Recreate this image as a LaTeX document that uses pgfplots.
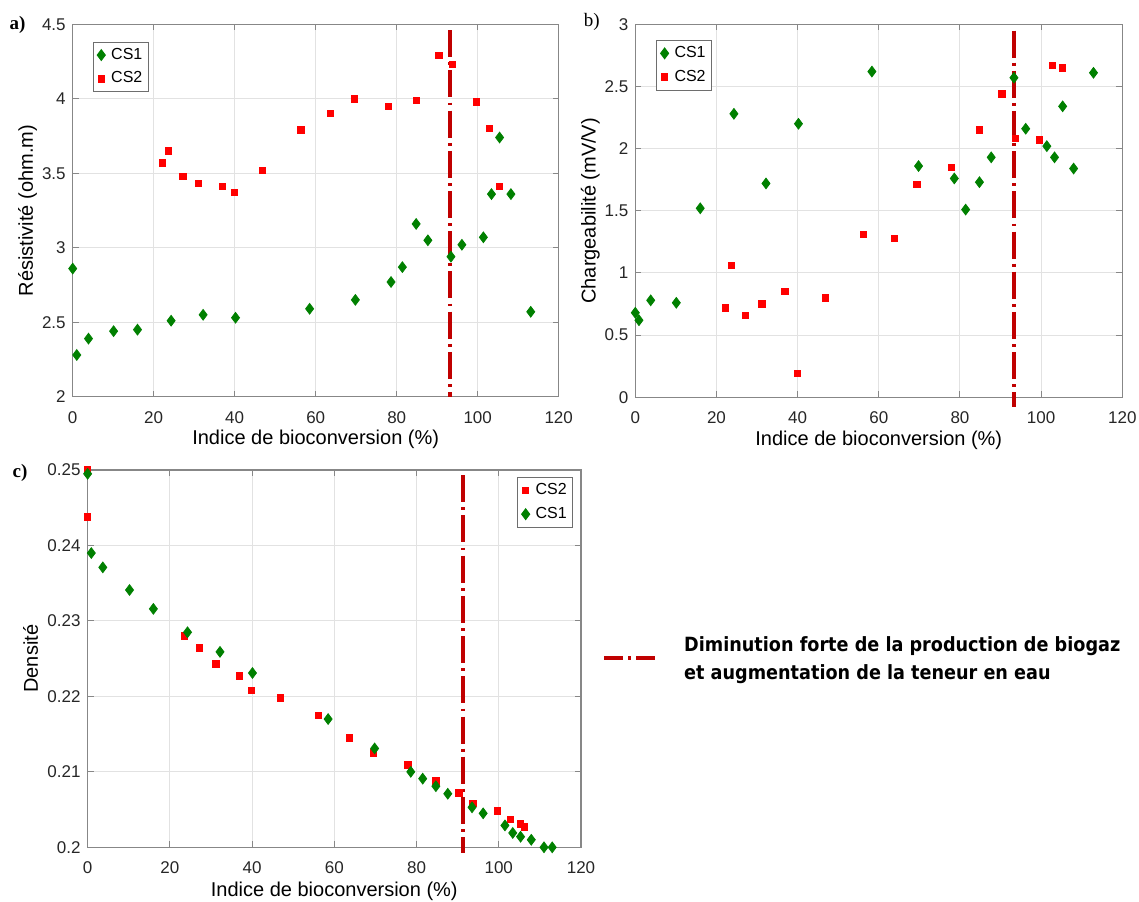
\documentclass[border=0pt]{standalone}
\usepackage{pgfplots}
\usepackage{pgfplotstable}
\pgfplotsset{compat=1.18}
\usepackage{fontspec}
\setmainfont{Liberation Sans}
\newfontfamily\seriffont{Liberation Serif}
\newfontfamily\annfont{DejaVu Sans}
\definecolor{csgreen}{RGB}{0,128,0}
\definecolor{csred}{RGB}{255,0,0}
\definecolor{vline}{RGB}{192,0,0}
\definecolor{axgray}{RGB}{135,135,135}
\definecolor{gridgray}{RGB}{226,226,226}
\definecolor{txtgray}{RGB}{38,38,38}
\definecolor{leggray}{RGB}{110,110,110}

% ---------- panel a ----------
\pgfplotstableread{
x y
0 2.86
1.0 2.28
3.9 2.39
10.1 2.44
16.0 2.45
24.3 2.51
32.2 2.55
40.2 2.53
58.5 2.59
69.8 2.65
78.6 2.77
81.4 2.87
84.8 3.16
87.7 3.05
93.4 2.94
96.1 3.02
101.4 3.07
103.4 3.36
105.4 3.74
108.2 3.36
113.1 2.57
}\aone
\pgfplotstableread{
x y
22.2 3.57
23.6 3.65
27.2 3.48
31.1 3.43
36.9 3.41
39.9 3.37
46.9 3.52
56.3 3.79
63.7 3.90
69.5 4.00
77.9 3.95
84.8 3.99
90.4 4.29
93.7 4.23
99.7 3.98
102.9 3.80
105.4 3.41
}\atwo
% ---------- panel b ----------
\pgfplotstableread{
x y
0 0.68
0.9 0.62
3.8 0.78
10.1 0.76
16.0 1.52
24.3 2.28
32.2 1.72
40.2 2.20
58.3 2.62
69.8 1.86
78.6 1.76
81.4 1.51
84.8 1.73
87.7 1.93
93.3 2.57
96.2 2.16
101.4 2.02
103.3 1.93
105.3 2.34
108.0 1.84
112.9 2.61
}\bone
\pgfplotstableread{
x y
22.2 0.72
23.7 1.06
27.2 0.66
31.2 0.75
36.9 0.85
40.0 0.19
46.9 0.80
56.2 1.31
63.8 1.28
69.4 1.71
77.9 1.85
84.8 2.15
90.3 2.44
93.6 2.08
99.6 2.07
102.8 2.67
105.3 2.65
}\btwo
% ---------- panel c ----------
\pgfplotstableread{
x y
0 0.2495
0.9 0.2390
3.7 0.2371
10.2 0.2341
16.0 0.2316
24.3 0.2285
32.2 0.2259
40.1 0.2231
58.5 0.2170
69.8 0.2131
78.6 0.2100
81.5 0.2091
84.7 0.2081
87.6 0.2071
93.5 0.2053
96.2 0.2045
101.5 0.2029
103.4 0.2019
105.3 0.2014
107.9 0.2010
111.0 0.2000
113.0 0.2000
}\cone
\pgfplotstableread{
x y
0 0.2500
0 0.2438
23.6 0.2280
27.2 0.2264
31.2 0.2243
36.9 0.2227
39.9 0.2208
46.9 0.2198
56.2 0.2175
63.7 0.2145
69.5 0.2125
77.9 0.2109
84.7 0.2088
90.3 0.2072
93.7 0.2058
99.6 0.2048
102.8 0.2037
105.3 0.2031
106.3 0.2027
}\ctwo

\pgfplotsset{
  matlab/.style={
    scale only axis,
    xmin=0, xmax=120,
    xtick={0,20,40,60,80,100,120},
    grid=major,
    major grid style={draw=gridgray, line width=0.5pt},
    axis line style={draw=axgray, line width=0.6pt},
    tick align=inside,
    major tick length=3pt,
    every tick/.style={draw=axgray, line width=0.5pt},
    /pgf/number format/assume math mode=true,
    ticklabel style={font=\fontsize{8.5}{10}\selectfont, text=txtgray},
    xticklabel style={anchor=center, yshift=-10.3pt},
    label style={font=\fontsize{9.5}{11}\selectfont, text=txtgray},
    xlabel={Indice de bioconversion (\%)},
    every axis x label/.style={at={([yshift=-21.5pt]axis description cs:0.5,0)}, anchor=center},
    every axis y label/.style={at={([xshift=-22.5pt]axis description cs:0,0.5)}, anchor=center, rotate=90},
    legend style={font=\fontsize{8}{9.5}\selectfont, draw=leggray, line width=0.5pt, fill=white,
      inner sep=0.5pt, row sep=0pt, nodes={inner sep=2.4pt}, cells={anchor=west}},
    legend image code/.code={\path (0pt,0pt) (5.6pt,0pt); \draw[#1] plot coordinates {(3.3pt,0pt)};},
    clip=false,
  },
  cs1/.style={only marks, mark=diamond*, mark size=2.67pt, color=csgreen, mark options={fill=csgreen, draw=csgreen}},
  cs2/.style={only marks, mark=square*, mark size=1.6pt, color=csred, mark options={fill=csred, draw=csred}},
  vl/.style={vline, line width=2pt, dash pattern=on 13.5pt off 2.6pt on 1.4pt off 2.6pt, mark=none, forget plot},
}

\begin{document}
\begin{tikzpicture}
\useasboundingbox (0,0) rectangle (569.5pt,450.5pt);

% ---------- a ----------
\begin{axis}[matlab,
  at={(36.35pt,252.15pt)}, anchor=south west,
  width=243pt, height=186.2pt,
  ymin=2, ymax=4.5, ytick={2,2.5,3,3.5,4,4.5},
  ylabel={Résistivité (ohm.m)},
  legend style={at={([xshift=10pt,yshift=-8.7pt]axis description cs:0,1)}, anchor=north west},
]
\addplot[cs1] table {\aone};
\addlegendentry{CS1}
\addplot[cs2] table {\atwo};
\addlegendentry{CS2}
\addplot[vl] coordinates {(93.1,4.46) (93.1,2.0)};
\end{axis}

% ---------- b ----------
\begin{axis}[matlab,
  at={(317.65pt,251.85pt)}, anchor=south west,
  width=243.5pt, height=186.5pt,
  ymin=0, ymax=3, ytick={0,0.5,1,1.5,2,2.5,3},
  ylabel={Chargeabilité (mV/V)},
  legend style={at={([xshift=10.35pt,yshift=-7.85pt]axis description cs:0,1)}, anchor=north west},
]
\addplot[cs1] table {\bone};
\addlegendentry{CS1}
\addplot[cs2] table {\btwo};
\addlegendentry{CS2}
\addplot[vl] coordinates {(93.3,2.95) (93.3,-0.08)};
\end{axis}

% ---------- c ----------
\begin{axis}[matlab,
  at={(43.8pt,26.85pt)}, anchor=south west,
  width=246.7pt, height=188.65pt,
  ymin=0.2, ymax=0.25, ytick={0.2,0.21,0.22,0.23,0.24,0.25},
  scaled y ticks=false,
  yticklabel style={/pgf/number format/.cd, fixed, precision=2},
  ylabel={Densité},
  every axis y label/.style={at={([xshift=-28.5pt]axis description cs:0,0.5)}, anchor=center, rotate=90},
  every axis x label/.style={at={([yshift=-22.2pt]axis description cs:0.5,0)}, anchor=center},
  legend style={at={([xshift=-4pt,yshift=-3.5pt]axis description cs:1,1)}, anchor=north east},
]
\addplot[cs2] table {\ctwo};
\addlegendentry{CS2}
\addplot[cs1] table {\cone};
\addlegendentry{CS1}
\addplot[vl] coordinates {(91.4,0.2493) (91.4,0.1992)};
\end{axis}

% panel letters
\node[font=\seriffont\bfseries\fontsize{9.5}{11}\selectfont] at (8.75pt,438pt) {a)};
\node[font=\seriffont\fontsize{9.5}{11}\selectfont] at (295.9pt,439.5pt) {b)};
\node[font=\seriffont\bfseries\fontsize{9.5}{11}\selectfont] at (10pt,214pt) {c)};

% annotation for the vertical line
\draw[vline, line width=2pt, dash pattern=on 9.5pt off 2.5pt on 1.5pt off 2.5pt] (302pt,121.6pt) -- (327.5pt,121.6pt);
\node[anchor=base west, inner sep=0pt, font=\annfont\bfseries\fontsize{9.8}{12}\selectfont] at (341.9pt,124.65pt) {\scalebox{0.9}[1]{Diminution forte de la production de biogaz}};
\node[anchor=base west, inner sep=0pt, font=\annfont\bfseries\fontsize{9.8}{12}\selectfont] at (341.9pt,111pt) {\scalebox{0.9}[1]{et augmentation de la teneur en eau}};
\end{tikzpicture}
\end{document}
